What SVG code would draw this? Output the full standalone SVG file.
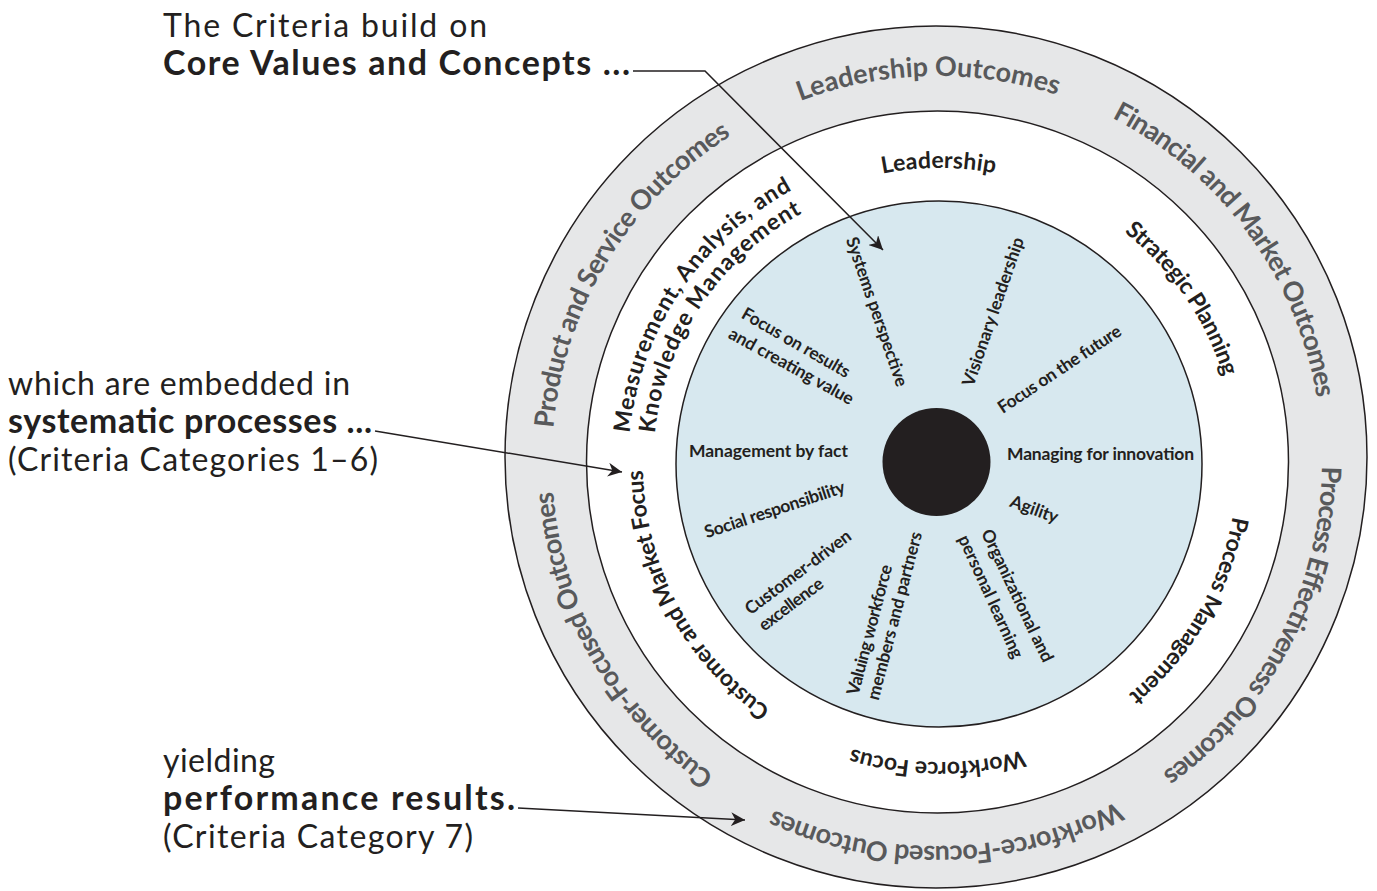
<svg xmlns="http://www.w3.org/2000/svg" xmlns:xlink="http://www.w3.org/1999/xlink" width="1377" height="891" viewBox="0 0 1377 891">
<style>
.ann{font-family:Lato,"Liberation Sans",sans-serif;font-size:32px;fill:#231f20}
.annb{font-family:Lato,"Liberation Sans",sans-serif;font-size:34px;font-weight:700;fill:#231f20}
.outer{font-family:Lato,"Liberation Sans",sans-serif;font-size:27px;font-weight:700;fill:#58595b}
.ring{font-family:Lato,"Liberation Sans",sans-serif;font-size:23px;font-weight:700;fill:#231f20}
.core{font-family:Lato,"Liberation Sans",sans-serif;font-size:17.5px;font-weight:700;fill:#231f20}
.edge{stroke:#231f20;stroke-width:1.5}
</style>
<defs>
<marker id="ah" viewBox="0 0 10 10" refX="10" refY="5" markerWidth="14" markerHeight="14" markerUnits="userSpaceOnUse" orient="auto">
<path d="M0,0 L10,5 L0,10 L3,5 z" fill="#231f20"/>
</marker>
<path id="pOuter" d="M937,846 A385,385 0 1 1 937,76 A385,385 0 1 1 937,846"/>
<path id="pRing" d="M940,762 A297,297 0 1 1 940,168 A297,297 0 1 1 940,762"/>
<path id="pRing1" d="M940,777 A312,312 0 1 1 940,153 A312,312 0 1 1 940,777"/>
<path id="pRing2" d="M940,752 A287,287 0 1 1 940,178 A287,287 0 1 1 940,752"/>
</defs>
<rect width="1377" height="891" fill="#ffffff"/>
<g id="rings">
<circle cx="936" cy="457" r="431" fill="#e6e7e8" class="edge"/>
<circle cx="937.5" cy="462" r="351" fill="#ffffff" class="edge"/>
<circle cx="939" cy="464" r="263" fill="#d7e8ef" class="edge"/>
<circle id="hub" cx="936.5" cy="462" r="54" fill="#231f20"/>
</g>
<g id="results">
<g id="r-leadership" transform="rotate(-1.3 937 461)"><text class="outer"><textPath xlink:href="#pOuter" href="#pOuter" startOffset="50%" text-anchor="middle" textLength="262" lengthAdjust="spacing">Leadership Outcomes</textPath></text></g>
<g id="r-financial" transform="rotate(53.8 937 461)"><text class="outer"><textPath xlink:href="#pOuter" href="#pOuter" startOffset="50%" text-anchor="middle" textLength="360" lengthAdjust="spacing">Financial and Market Outcomes</textPath></text></g>
<g id="r-process" transform="rotate(117.5 937 461)"><text class="outer"><textPath xlink:href="#pOuter" href="#pOuter" startOffset="50%" text-anchor="middle" textLength="359" lengthAdjust="spacing">Process Effectiveness Outcomes</textPath></text></g>
<g id="r-workforce" transform="rotate(178.6 937 461)"><text class="outer"><textPath xlink:href="#pOuter" href="#pOuter" startOffset="50%" text-anchor="middle" textLength="356" lengthAdjust="spacing">Workforce-Focused Outcomes</textPath></text></g>
<g id="r-customer" transform="rotate(240.4 937 461)"><text class="outer"><textPath xlink:href="#pOuter" href="#pOuter" startOffset="50%" text-anchor="middle" textLength="337" lengthAdjust="spacing">Customer-Focused Outcomes</textPath></text></g>
<g id="r-product" transform="rotate(301.3 937 461)"><text class="outer"><textPath xlink:href="#pOuter" href="#pOuter" startOffset="50%" text-anchor="middle" textLength="355" lengthAdjust="spacing">Product and Service Outcomes</textPath></text></g>
</g>
<g id="categories">
<g id="c-leadership" transform="rotate(-0.25 940 465)"><text class="ring"><textPath xlink:href="#pRing" href="#pRing" startOffset="50%" text-anchor="middle" textLength="113" lengthAdjust="spacing">Leadership</textPath></text></g>
<g id="c-strategic" transform="rotate(55.5 940 465)"><text class="ring"><textPath xlink:href="#pRing" href="#pRing" startOffset="50%" text-anchor="middle" textLength="178" lengthAdjust="spacing">Strategic Planning</textPath></text></g>
<g id="c-process" transform="rotate(120.3 940 465)"><text class="ring"><textPath xlink:href="#pRing" href="#pRing" startOffset="50%" text-anchor="middle" textLength="211" lengthAdjust="spacing">Process Management</textPath></text></g>
<g id="c-workforce" transform="rotate(180.5 940 465)"><text class="ring"><textPath xlink:href="#pRing" href="#pRing" startOffset="50%" text-anchor="middle" textLength="174" lengthAdjust="spacing">Workforce Focus</textPath></text></g>
<g id="c-customer" transform="rotate(241.9 940 465)"><text class="ring"><textPath xlink:href="#pRing" href="#pRing" startOffset="50%" text-anchor="middle" textLength="281" lengthAdjust="spacing">Customer and Market Focus</textPath></text></g>
<g id="c-measurement" transform="rotate(303.8 940 465)">
<text class="ring"><textPath xlink:href="#pRing1" href="#pRing1" startOffset="50%" text-anchor="middle" textLength="304" lengthAdjust="spacing">Measurement, Analysis, and</textPath></text>
<text class="ring"><textPath xlink:href="#pRing2" href="#pRing2" startOffset="50%" text-anchor="middle" textLength="275" lengthAdjust="spacing">Knowledge Management</textPath></text>
</g>
</g>
<g id="core-values">
<g id="v-systems"><text class="core" transform="translate(876 312) rotate(71)" text-anchor="middle" dy="5" textLength="157" lengthAdjust="spacing">Systems perspective</text></g>
<g id="v-visionary"><text class="core" transform="translate(994 312) rotate(-71)" text-anchor="middle" dy="5" textLength="156" lengthAdjust="spacing">Visionary leadership</text></g>
<g id="v-future"><text class="core" transform="translate(1060 370) rotate(-33.6)" text-anchor="middle" dy="5" textLength="144" lengthAdjust="spacing">Focus on the future</text></g>
<g id="v-innovation"><text class="core" x="1100.5" y="460" text-anchor="middle" textLength="187" lengthAdjust="spacing">Managing for innovation</text></g>
<g id="v-agility"><text class="core" transform="translate(1034 510) rotate(20)" text-anchor="middle" dy="5" textLength="50" lengthAdjust="spacing">Agility</text></g>
<g id="v-learning">
<text class="core" transform="translate(1016.5 596) rotate(64.5)" text-anchor="middle" dy="5" textLength="145" lengthAdjust="spacing">Organizational and</text>
<text class="core" transform="translate(990 597) rotate(65.5)" text-anchor="middle" dy="5" textLength="133" lengthAdjust="spacing">personal learning</text>
</g>
<g id="v-valuing">
<text class="core" transform="translate(870.5 630) rotate(-75.3)" text-anchor="middle" dy="5" textLength="134" lengthAdjust="spacing">Valuing workforce</text>
<text class="core" transform="translate(895.5 616) rotate(-75.3)" text-anchor="middle" dy="5" textLength="173" lengthAdjust="spacing">members and partners</text>
</g>
<g id="v-customer">
<text class="core" transform="translate(798.5 573) rotate(-37)" text-anchor="middle" dy="5" textLength="128" lengthAdjust="spacing">Customer-driven</text>
<text class="core" transform="translate(791.5 605) rotate(-37)" text-anchor="middle" dy="5" textLength="76" lengthAdjust="spacing">excellence</text>
</g>
<g id="v-social"><text class="core" transform="translate(775 510.5) rotate(-18.3)" text-anchor="middle" dy="5" textLength="147" lengthAdjust="spacing">Social responsibility</text></g>
<g id="v-fact"><text class="core" x="689" y="457" textLength="159" lengthAdjust="spacing">Management by fact</text></g>
<g id="v-results">
<text class="core" transform="translate(795.5 343.5) rotate(30)" text-anchor="middle" dy="5" textLength="122" lengthAdjust="spacing">Focus on results</text>
<text class="core" transform="translate(791 367) rotate(29)" text-anchor="middle" dy="5" textLength="140" lengthAdjust="spacing">and creating value</text>
</g>
</g>
<g id="annotations">
<g id="a-core">
<text class="ann" x="163" y="37" textLength="324" lengthAdjust="spacing">The Criteria build on</text>
<text class="annb" x="163" y="75" textLength="467" lengthAdjust="spacing">Core Values and Concepts ...</text>
</g>
<g id="a-processes">
<text class="ann" x="8" y="395" textLength="342" lengthAdjust="spacing">which are embedded in</text>
<text class="annb" x="8" y="433" textLength="364" lengthAdjust="spacing">systematic processes ...</text>
<text class="ann" x="8" y="471" textLength="370" lengthAdjust="spacing">(Criteria Categories 1–6)</text>
</g>
<g id="a-results">
<text class="ann" x="163" y="772" textLength="112" lengthAdjust="spacing">yielding</text>
<text class="annb" x="163" y="810" textLength="352" lengthAdjust="spacing">performance results.</text>
<text class="ann" x="163" y="848" textLength="310" lengthAdjust="spacing">(Criteria Category 7)</text>
</g>
</g>
<g id="connectors" fill="none" stroke="#231f20" stroke-width="1.5">
<polyline id="conn-core" points="633,71 705,71 883,250" marker-end="url(#ah)"/>
<line id="conn-processes" x1="375" y1="431" x2="622" y2="472" marker-end="url(#ah)"/>
<line id="conn-results" x1="518" y1="808" x2="745" y2="820" marker-end="url(#ah)"/>
</g>
</svg>
